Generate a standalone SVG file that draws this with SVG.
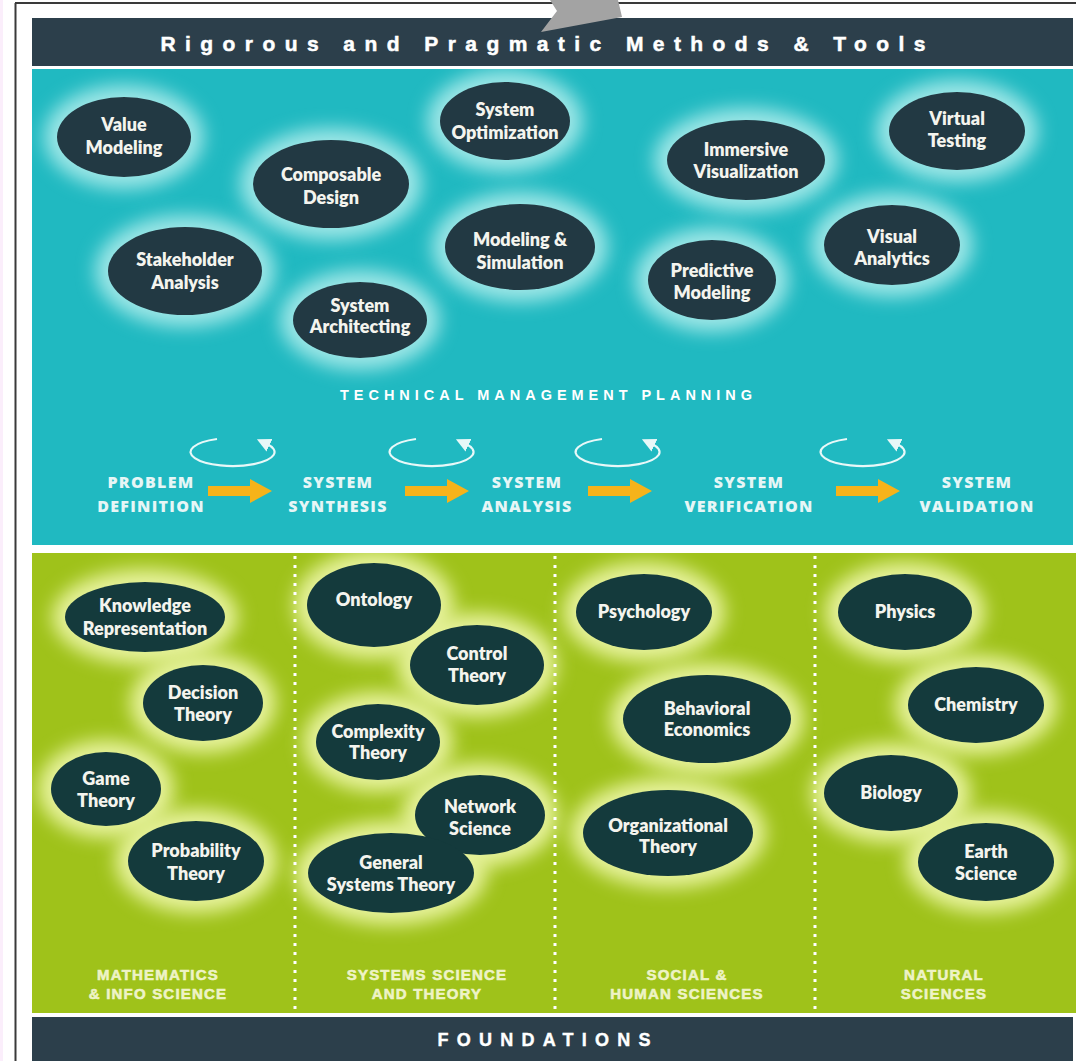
<svg xmlns="http://www.w3.org/2000/svg" width="1076" height="1061" viewBox="0 0 1076 1061">
<style>
.nav{fill:#2c3f4b}
.teal{fill:#20b9c1}
.green{fill:#9fc21a}
.halo-t{fill:#9be6e6;filter:url(#blur)}
.halo-g{fill:#e6f29a;filter:url(#blur)}
.node{fill:#223943}
.node-g{fill:#143a3c}
.lbl{font-family:Lato,"Liberation Sans",sans-serif;font-weight:800;font-size:18px;fill:#f4f4ee;text-anchor:middle}
.hdr{font-family:"Liberation Sans",Arial,sans-serif;font-weight:700;fill:#ffffff;text-anchor:middle}
.proc{font-family:"Open Sans","Liberation Sans",sans-serif;font-weight:800;font-size:16px;fill:#e6f6f6;text-anchor:middle;letter-spacing:1.3px}
.cat{font-family:"Liberation Sans",Arial,sans-serif;font-weight:700;font-size:15px;fill:#eef3c6;stroke:#eef3c6;stroke-width:0.6;text-anchor:middle;letter-spacing:1.2px}
.loop{fill:none;stroke:#e8f8f8;stroke-width:2.2}
.yarrow{fill:#f6b31a}
.div{stroke:#ffffff;stroke-width:3;stroke-dasharray:3 6}
</style>
<defs>
<filter id="blur" x="-50%" y="-50%" width="200%" height="200%"><feGaussianBlur stdDeviation="9"/></filter>
<clipPath id="clipT"><rect x="32" y="69" width="1041" height="476"/></clipPath>
<clipPath id="clipG"><rect x="32" y="553" width="1044" height="460"/></clipPath>
<marker id="lh" viewBox="0 0 10 10" refX="2" refY="5" markerWidth="14" markerHeight="14" markerUnits="userSpaceOnUse" orient="auto"><path d="M0,0 L10,5 L0,10 z" fill="#e8f8f8"/></marker>
</defs>

<rect x="0" y="0" width="1076" height="1061" fill="#ffffff"/>
<rect x="0" y="0" width="3" height="1061" fill="#fbeefb"/>
<line x1="15" y1="3" x2="1076" y2="3" stroke="#3a3a3a" stroke-width="2"/>
<line x1="15.5" y1="3" x2="15.5" y2="1061" stroke="#3a3a3a" stroke-width="2"/>

<!-- panels -->
<rect class="nav" x="32" y="18" width="1041" height="48"/>
<rect class="teal" x="32" y="69" width="1041" height="476"/>
<rect class="green" x="32" y="553" width="1044" height="460"/>
<rect class="nav" x="32" y="1017" width="1041" height="44"/>

<polygon points="550,0 557,11 541,32 622,17 618,0" fill="#a3a3a3"/>

<text class="hdr" x="543" y="51" font-size="21" stroke="#ffffff" stroke-width="0.5" textLength="765" lengthAdjust="spacing">Rigorous and Pragmatic Methods &amp; Tools</text>
<text class="hdr" x="544" y="1046" font-size="18" stroke="#ffffff" stroke-width="0.4" textLength="213" lengthAdjust="spacing">FOUNDATIONS</text>

<!-- glows -->
<g id="glows-teal" clip-path="url(#clipT)">
<ellipse class="halo-t" cx="124" cy="137" rx="80" ry="52"/>
<ellipse class="halo-t" cx="505" cy="121" rx="78" ry="51"/>
<ellipse class="halo-t" cx="957" cy="131" rx="81" ry="51"/>
<ellipse class="halo-t" cx="331" cy="184" rx="91" ry="56"/>
<ellipse class="halo-t" cx="746" cy="160" rx="92" ry="52"/>
<ellipse class="halo-t" cx="185" cy="271" rx="90" ry="56"/>
<ellipse class="halo-t" cx="520" cy="247" rx="88" ry="55"/>
<ellipse class="halo-t" cx="712" cy="280" rx="77" ry="52"/>
<ellipse class="halo-t" cx="892" cy="245" rx="81" ry="52"/>
<ellipse class="halo-t" cx="360" cy="320" rx="80" ry="50"/>
</g>
<g id="glows-green" clip-path="url(#clipG)">
<ellipse class="halo-g" cx="145" cy="617" rx="93" ry="48"/>
<ellipse class="halo-g" cx="203" cy="703" rx="73" ry="50"/>
<ellipse class="halo-g" cx="106" cy="789" rx="68" ry="49"/>
<ellipse class="halo-g" cx="196" cy="861" rx="81" ry="52"/>
<ellipse class="halo-g" cx="374" cy="605" rx="80" ry="54"/>
<ellipse class="halo-g" cx="477" cy="665" rx="80" ry="52"/>
<ellipse class="halo-g" cx="378" cy="742" rx="75" ry="50"/>
<ellipse class="halo-g" cx="480" cy="815" rx="78" ry="52"/>
<ellipse class="halo-g" cx="391" cy="873" rx="96" ry="52"/>
<ellipse class="halo-g" cx="644" cy="612" rx="81" ry="50"/>
<ellipse class="halo-g" cx="707" cy="719" rx="97" ry="56"/>
<ellipse class="halo-g" cx="668" cy="833" rx="98" ry="55"/>
<ellipse class="halo-g" cx="905" cy="612" rx="80" ry="50"/>
<ellipse class="halo-g" cx="976" cy="705" rx="81" ry="50"/>
<ellipse class="halo-g" cx="891" cy="793" rx="80" ry="50"/>
<ellipse class="halo-g" cx="986" cy="862" rx="81" ry="51"/>
</g>

<!-- dividers -->
<line class="div" x1="295" y1="556" x2="295" y2="1012"/>
<line class="div" x1="555" y1="556" x2="555" y2="1012"/>
<line class="div" x1="815" y1="556" x2="815" y2="1012"/>

<!-- teal nodes -->
<g id="n-value-modeling"><ellipse class="node" cx="124" cy="137" rx="67" ry="40"/><text class="lbl" x="124" y="131">Value</text><text class="lbl" x="124" y="154">Modeling</text></g>
<g id="n-system-optimization"><ellipse class="node" cx="505" cy="121" rx="65" ry="39"/><text class="lbl" x="505" y="116">System</text><text class="lbl" x="505" y="139">Optimization</text></g>
<g id="n-virtual-testing"><ellipse class="node" cx="957" cy="131" rx="68" ry="39"/><text class="lbl" x="957" y="125">Virtual</text><text class="lbl" x="957" y="147">Testing</text></g>
<g id="n-composable-design"><ellipse class="node" cx="331" cy="184" rx="78" ry="44"/><text class="lbl" x="331" y="181">Composable</text><text class="lbl" x="331" y="204">Design</text></g>
<g id="n-immersive-visualization"><ellipse class="node" cx="746" cy="160" rx="79" ry="40"/><text class="lbl" x="746" y="156">Immersive</text><text class="lbl" x="746" y="178">Visualization</text></g>
<g id="n-stakeholder-analysis"><ellipse class="node" cx="185" cy="271" rx="77" ry="44"/><text class="lbl" x="185" y="266">Stakeholder</text><text class="lbl" x="185" y="289">Analysis</text></g>
<g id="n-modeling-simulation"><ellipse class="node" cx="520" cy="247" rx="75" ry="43"/><text class="lbl" x="520" y="246">Modeling &amp;</text><text class="lbl" x="520" y="269">Simulation</text></g>
<g id="n-predictive-modeling"><ellipse class="node" cx="712" cy="280" rx="64" ry="40"/><text class="lbl" x="712" y="277">Predictive</text><text class="lbl" x="712" y="299">Modeling</text></g>
<g id="n-visual-analytics"><ellipse class="node" cx="892" cy="245" rx="68" ry="40"/><text class="lbl" x="892" y="243">Visual</text><text class="lbl" x="892" y="265">Analytics</text></g>
<g id="n-system-architecting"><ellipse class="node" cx="360" cy="320" rx="67" ry="38"/><text class="lbl" x="360" y="312">System</text><text class="lbl" x="360" y="333">Architecting</text></g>

<text class="hdr" x="546" y="400" font-family="'Open Sans','Liberation Sans',sans-serif" font-weight="800" font-size="14.5" textLength="412" lengthAdjust="spacing" fill="#eaf8f8">TECHNICAL MANAGEMENT PLANNING</text>

<!-- process row -->
<g id="n-problem-definition"><text class="proc" x="151" y="488">PROBLEM</text><text class="proc" x="151" y="512">DEFINITION</text></g>
<g id="n-system-synthesis"><text class="proc" x="338" y="488">SYSTEM</text><text class="proc" x="338" y="512">SYNTHESIS</text></g>
<g id="n-system-analysis"><text class="proc" x="527" y="488">SYSTEM</text><text class="proc" x="527" y="512">ANALYSIS</text></g>
<g id="n-system-verification"><text class="proc" x="749" y="488">SYSTEM</text><text class="proc" x="749" y="512">VERIFICATION</text></g>
<g id="n-system-validation"><text class="proc" x="977" y="488">SYSTEM</text><text class="proc" x="977" y="512">VALIDATION</text></g>

<g id="connectors">
<polygon class="yarrow" points="208,486 250,486 250,479 272,491 250,503 250,496 208,496"/>
<polygon class="yarrow" points="405,486 447,486 447,479 469,491 447,503 447,496 405,496"/>
<polygon class="yarrow" points="588,486 630,486 630,479 652,491 630,503 630,496 588,496"/>
<polygon class="yarrow" points="836,486 878,486 878,479 900,491 878,503 878,496 836,496"/>
<path class="loop" marker-end="url(#lh)" d="M217,439 A42,14 0 1,0 267,444"/>
<path class="loop" marker-end="url(#lh)" d="M416,439 A42,14 0 1,0 466,444"/>
<path class="loop" marker-end="url(#lh)" d="M602,439 A42,14 0 1,0 652,444"/>
<path class="loop" marker-end="url(#lh)" d="M847,439 A42,14 0 1,0 897,444"/>
</g>

<!-- green nodes -->
<g id="n-knowledge-representation"><ellipse class="node-g" cx="145" cy="617" rx="80" ry="35"/><text class="lbl" x="145" y="612">Knowledge</text><text class="lbl" x="145" y="635">Representation</text></g>
<g id="n-decision-theory"><ellipse class="node-g" cx="203" cy="703" rx="60" ry="38"/><text class="lbl" x="203" y="699">Decision</text><text class="lbl" x="203" y="721">Theory</text></g>
<g id="n-game-theory"><ellipse class="node-g" cx="106" cy="789" rx="55" ry="37"/><text class="lbl" x="106" y="785">Game</text><text class="lbl" x="106" y="807">Theory</text></g>
<g id="n-probability-theory"><ellipse class="node-g" cx="196" cy="861" rx="68" ry="40"/><text class="lbl" x="196" y="857">Probability</text><text class="lbl" x="196" y="880">Theory</text></g>
<g id="n-ontology"><ellipse class="node-g" cx="374" cy="605" rx="67" ry="42"/><text class="lbl" x="374" y="606">Ontology</text></g>
<g id="n-control-theory"><ellipse class="node-g" cx="477" cy="665" rx="67" ry="40"/><text class="lbl" x="477" y="660">Control</text><text class="lbl" x="477" y="682">Theory</text></g>
<g id="n-complexity-theory"><ellipse class="node-g" cx="378" cy="742" rx="62" ry="38"/><text class="lbl" x="378" y="738">Complexity</text><text class="lbl" x="378" y="759">Theory</text></g>
<g id="n-network-science"><ellipse class="node-g" cx="480" cy="815" rx="65" ry="40"/><text class="lbl" x="480" y="813">Network</text><text class="lbl" x="480" y="835">Science</text></g>
<g id="n-general-systems-theory"><ellipse class="node-g" cx="391" cy="873" rx="83" ry="40"/><text class="lbl" x="391" y="869">General</text><text class="lbl" x="391" y="891">Systems Theory</text></g>
<g id="n-psychology"><ellipse class="node-g" cx="644" cy="612" rx="68" ry="38"/><text class="lbl" x="644" y="618">Psychology</text></g>
<g id="n-behavioral-economics"><ellipse class="node-g" cx="707" cy="719" rx="84" ry="44"/><text class="lbl" x="707" y="715">Behavioral</text><text class="lbl" x="707" y="736">Economics</text></g>
<g id="n-organizational-theory"><ellipse class="node-g" cx="668" cy="833" rx="85" ry="43"/><text class="lbl" x="668" y="832">Organizational</text><text class="lbl" x="668" y="853">Theory</text></g>
<g id="n-physics"><ellipse class="node-g" cx="905" cy="612" rx="67" ry="38"/><text class="lbl" x="905" y="618">Physics</text></g>
<g id="n-chemistry"><ellipse class="node-g" cx="976" cy="705" rx="68" ry="38"/><text class="lbl" x="976" y="711">Chemistry</text></g>
<g id="n-biology"><ellipse class="node-g" cx="891" cy="793" rx="67" ry="38"/><text class="lbl" x="891" y="799">Biology</text></g>
<g id="n-earth-science"><ellipse class="node-g" cx="986" cy="862" rx="68" ry="39"/><text class="lbl" x="986" y="858">Earth</text><text class="lbl" x="986" y="880">Science</text></g>

<!-- category labels -->
<g id="n-cat-math"><text class="cat" x="158" y="980">MATHEMATICS</text><text class="cat" x="158" y="999">&amp; INFO SCIENCE</text></g>
<g id="n-cat-systems"><text class="cat" x="427" y="980">SYSTEMS SCIENCE</text><text class="cat" x="427" y="999">AND THEORY</text></g>
<g id="n-cat-social"><text class="cat" x="687" y="980">SOCIAL &amp;</text><text class="cat" x="687" y="999">HUMAN SCIENCES</text></g>
<g id="n-cat-natural"><text class="cat" x="944" y="980">NATURAL</text><text class="cat" x="944" y="999">SCIENCES</text></g>
</svg>
